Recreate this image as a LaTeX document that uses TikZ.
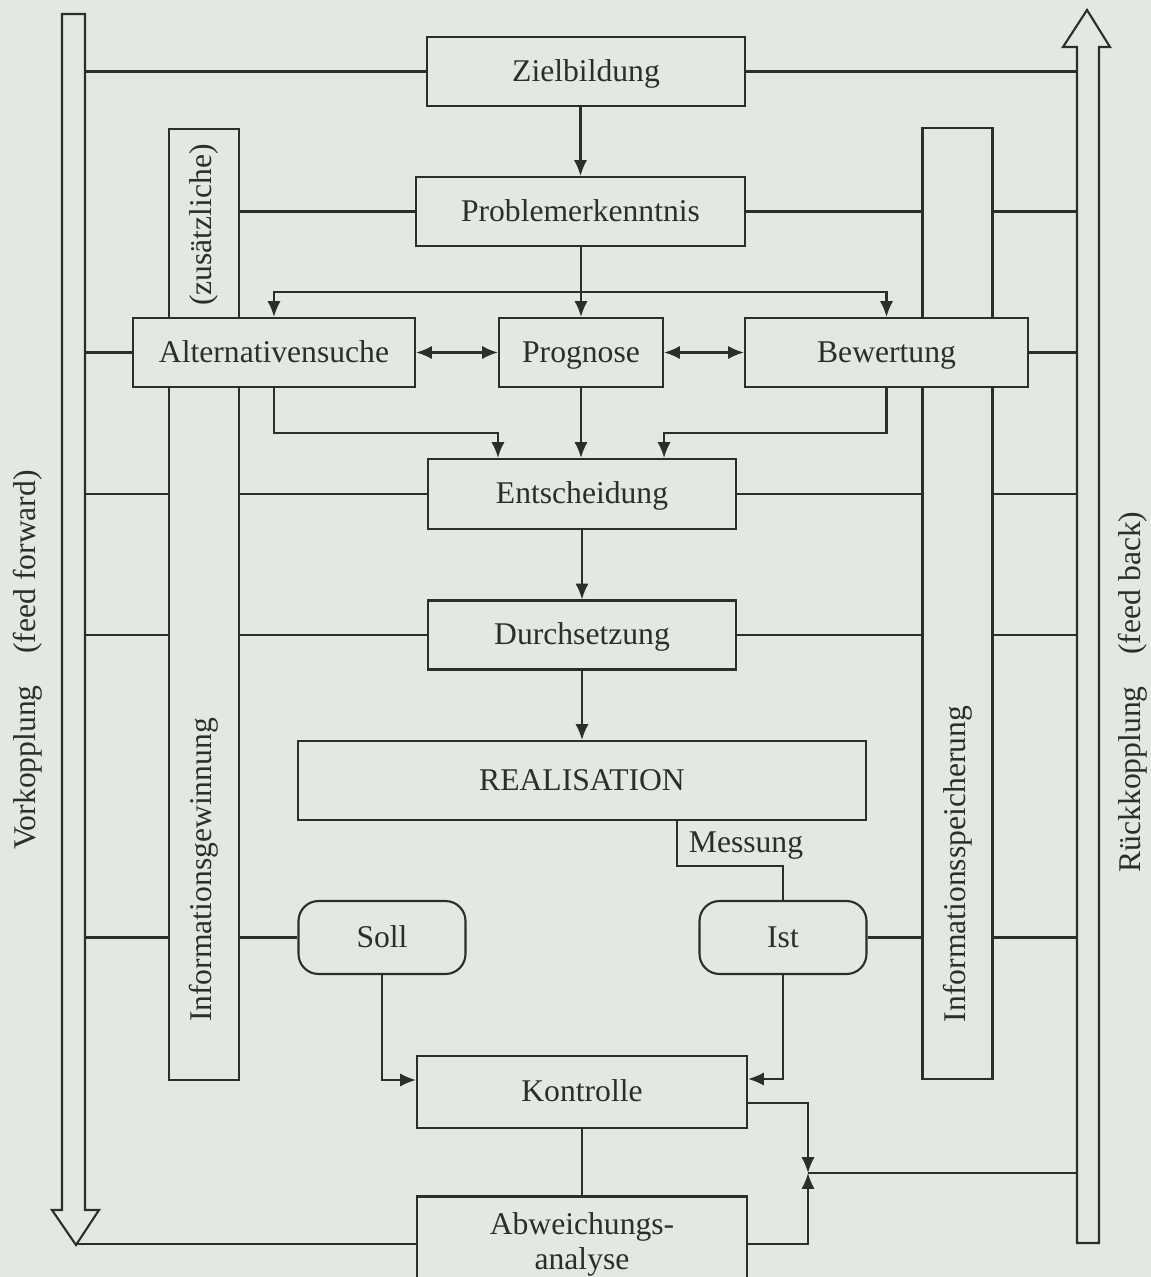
\documentclass[tikz,border=0pt]{standalone}
\usepackage{fontspec}
\setmainfont{Liberation Serif}
\usetikzlibrary{arrows.meta,positioning,calc}
\definecolor{bg}{RGB}{227,232,227}
\definecolor{ink}{RGB}{45,45,45}

\begin{document}
\begin{tikzpicture}[x=0.02cm,y=-0.02cm,>={Latex[length=9pt,width=7.5pt]},
                    line width=1.2pt,color=ink,font=\fontsize{18}{20}\selectfont]
  \tikzstyle{box}=[draw,fill=bg,rectangle,minimum height=1.38cm,inner sep=2pt,
                   text height=14pt,text depth=3pt]
  \tikzstyle{soft}=[box,rounded corners=0.4cm,minimum height=1.46cm,minimum width=3.34cm]
  \tikzstyle{bar}=[draw,fill=bg,minimum width=1.4cm,minimum height=19.04cm]
  \tikzstyle{side}=[rotate=90]

  \useasboundingbox (0,0) rectangle (1151,1277);
  \fill[bg] (0,0) rectangle (1151,1277);

  \coordinate (vl) at (85,0);
  \coordinate (vr) at (1077,0);
  \coordinate (tip) at (76,1245);
  \draw[fill=bg] (tip) -- (52,1210) -- (62,1210) -- (62,14) -- (85,14) -- (85,1210) -- (99,1210) -- cycle;
  \draw[fill=bg] (1077,1243) -- (1077,47) -- (1063,47) -- (1087,10) -- (1110,47) -- (1099,47) -- (1099,1243) -- cycle;
  \node[side] (vk) at (28,660)  {Vorkopplung\quad(feed forward)};
  \node[side] (rk) at (1133,692) {Rückkopplung\quad(feed back)};

  \node[bar] (igL) at (204,604.5) {};
  \node[bar] (isR) at (957.5,603.5) {};
  \node[side] (zus) at (204,225) {(zusätzliche)};
  \node[side] (igT) at (204,870) {Informationsgewinnung};
  \node[side] (isT) at (958,864) {Informationsspeicherung};

  \node[box,minimum width=6.36cm] (zb)  at (586,71.5)  {Zielbildung};
  \node[box,minimum width=6.58cm] (pe)  at (580.5,211.5) {Problemerkenntnis};
  \node[box,minimum width=5.64cm] (alt) at (274,352.5) {Alternativensuche};
  \node[box,minimum width=3.28cm] (pg)  at (581,352.5) {Prognose};
  \node[box,minimum width=5.66cm] (bw)  at (886.5,352.5) {Bewertung};
  \node[box,minimum width=6.16cm,minimum height=1.4cm] (en) at (582,494) {Entscheidung};
  \node[box,minimum width=6.16cm] (du)  at (582,635) {Durchsetzung};
  \node[box,minimum width=11.36cm,minimum height=1.58cm] (re) at (582,780.5) {REALISATION};
  \node[soft] (soll) at (382,937.5) {Soll};
  \node[soft] (ist)  at (783,937.5) {Ist};
  \node[box,minimum width=6.6cm,minimum height=1.44cm] (ko) at (582,1092) {Kontrolle};
  \node[box,text height=,text depth=,minimum width=6.6cm,minimum height=1.9cm,align=center] (ab) at (582,1244) {Abweichungs-\\analyse};
  \node (ms) at (746,846) {Messung};

  \coordinate (br)  at (0,292);
  \coordinate (mg)  at (0,433);
  \coordinate (msx) at (677,866);
  \coordinate (jn)  at (808,1173);

  \draw[->] (pe.north |- zb.south) -- (pe.north);
  \draw[->] (pe.south -| pg) -- (pg.north);
  \draw[->] (pg.north |- br) -| (alt.north);
  \draw[->] (pg.north |- br) -| (bw.north);
  \draw[<->] (alt) -- (pg);
  \draw[<->] (pg) -- (bw);
  \draw[->] (alt.south) |- (pg.west |- mg) -- (pg.west |- en.north);
  \draw[->] (bw.south) |- (pg.east |- mg) -- (pg.east |- en.north);
  \draw[->] (pg.south) -- (pg.south |- en.north);
  \draw[->] (en) -- (du);
  \draw[->] (du) -- (re);
  \draw (re.south -| msx) -- (msx) -| (ist.north);
  \draw[->] (soll.south) |- ($(ko.west)+(0,-12)$);
  \draw[->] (ist.south) |- ($(ko.east)+(0,-13)$);
  \draw (ko) -- (ab);
  \draw[->] ($(ko.east)+(0,11)$) -| (jn);
  \draw[->] (ab.east) -| (jn);
  \draw (jn) -- (jn -| vr);
  \draw (ab.west) -- (ab.west -| tip);

  \draw (zb.west) -- (zb.west -| vl)  (zb.east) -- (zb.east -| vr);
  \draw (pe.west) -- (pe.west -| igL.east);
  \draw (alt.west) -- (alt.west -| vl)  (bw.east) -- (bw.east -| vr);
  \foreach \n in {en,du,soll}
    \draw (\n.west) -- (\n.west -| igL.east)  (\n.west -| igL.west) -- (\n.west -| vl);
  \foreach \n in {pe,en,du,ist}
    \draw (\n.east) -- (\n.east -| isR.west)  (\n.east -| isR.east) -- (\n.east -| vr);
\end{tikzpicture}
\end{document}
